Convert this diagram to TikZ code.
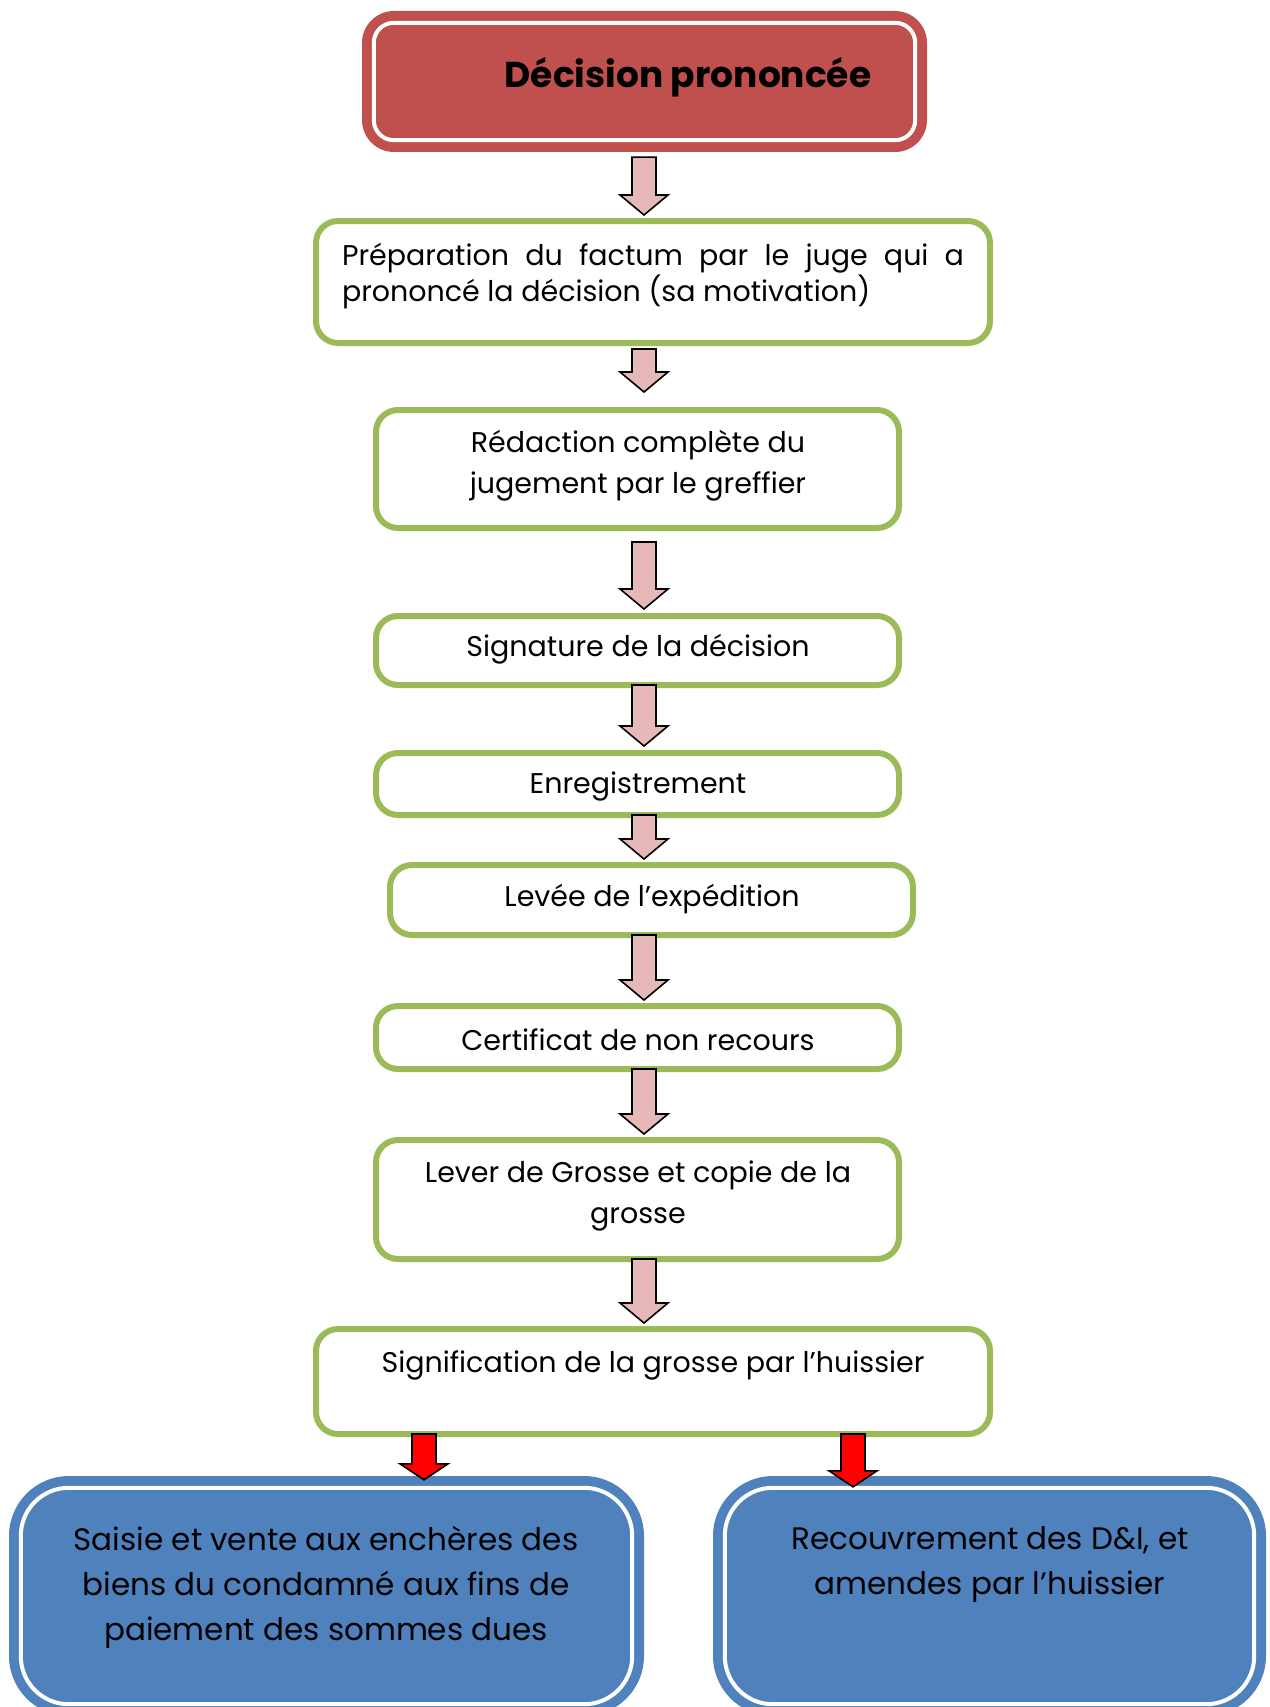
\documentclass[tikz,border=0pt]{standalone}
\usepackage{fontspec}
\setmainfont{Poppins}
\usetikzlibrary{calc}

\definecolor{headred}{HTML}{C0504D}
\definecolor{stepgreen}{HTML}{9BBB59}
\definecolor{endblue}{HTML}{4F81BD}
\definecolor{arrowpink}{HTML}{E6B9B8}
\definecolor{arrowred}{HTML}{FF0000}

% block arrow: #1 style, #2 start point, #3 tip point, #4 head length
\newcommand{\flowarrow}[4]{%
  \draw[#1] let \p1=#2, \p2=#3 in
    (\x1-12pt,\y1) -- (\x1+12pt,\y1) -- (\x1+12pt,\y2+#4) -- (\x1+24pt,\y2+#4)
    -- (\x1,\y2) -- (\x1-24pt,\y2+#4) -- (\x1-12pt,\y2+#4) -- cycle;}

\tikzset{
  stepbox/.style={draw=stepgreen, line width=6pt, fill=white, rounded corners=22pt,
    inner sep=0pt, minimum width=523pt},
  widebox/.style={stepbox, minimum width=674pt},
  steptext/.style={inner sep=0pt, font=\fontsize{28.5}{41}\selectfont, align=center},
  pinkarrow/.style={draw=black, line width=1.6pt, fill=arrowpink, line join=miter},
  redarrow/.style={draw=black, line width=1.6pt, fill=arrowred, line join=miter},
  innerline/.style={draw=white, line width=4pt},
}

\begin{document}
\begin{tikzpicture}[x=1pt, y=-1pt]
\useasboundingbox (0,0) rectangle (1269,1707);
\clip (0,0) rectangle (1269,1707);

\coordinate (col) at (644,0);
\coordinate (lcol) at (424,0);
\coordinate (rcol) at (853,0);

% title box
\node[fill=headred, rounded corners=32pt, inner sep=0pt, minimum width=565pt, minimum height=141pt]
  (r) at (644.5,81.5) {};
\draw[innerline, rounded corners=20pt] ($(r.north west)+(12,12)$) rectangle ($(r.south east)+(-12,-12)$);
\node[inner sep=0pt, font=\fontsize{36}{42}\selectfont\bfseries] (rt) at (688,77) {Décision prononcée};

% process steps
\node[widebox, minimum height=122pt] (g1) at (653,282) {};
\node[steptext, text width=622pt, align=justify, font=\fontsize{28.5}{36}\selectfont] (t1) at (653,276)
  {Préparation du factum par le juge qui a prononcé la décision (sa motivation)};

\node[stepbox, minimum height=118pt] (g2) at (637.5,469) {};
\node[steptext] (t2) at (638,465.5) {Rédaction complète du\\jugement par le greffier};

\node[stepbox, minimum height=69pt] (g3) at (637.5,650.5) {};
\node[steptext] (t3) at (638,649) {Signature de la décision};

\node[stepbox, minimum height=62pt] (g4) at (637.5,784) {};
\node[steptext] (t4) at (638,786) {Enregistrement};

\node[stepbox, minimum height=70pt] (g5) at (651.5,900) {};
\node[steptext] (t5) at (652,899) {Levée de l’expédition};

\node[stepbox, minimum height=63pt] (g6) at (637.5,1037.5) {};
\node[steptext] (t6) at (638,1040) {Certificat de non recours};

\node[stepbox, minimum height=119pt] (g7) at (637.5,1199.5) {};
\node[steptext] (t7) at (638,1196) {Lever de Grosse et copie de la\\grosse};

\node[widebox, minimum height=105pt] (g8) at (653,1381.5) {};
\node[steptext] (t8) at (653,1365) {Signification de la grosse par l’huissier};

% outcome boxes
\node[fill=endblue, rounded corners=60pt, inner sep=0pt, minimum width=635pt, minimum height=240pt]
  (b1) at (326.5,1596) {};
\draw[innerline, rounded corners=48pt] ($(b1.north west)+(12,12)$) rectangle ($(b1.south east)+(-12,-12)$);
\node[steptext, font=\fontsize{31}{45}\selectfont] (bt1) at (326,1587)
  {Saisie et vente aux enchères des\\biens du condamné aux fins de\\paiement des sommes dues};

\node[fill=endblue, rounded corners=60pt, inner sep=0pt, minimum width=553pt, minimum height=240pt]
  (b2) at (989.5,1596) {};
\draw[innerline, rounded corners=48pt] ($(b2.north west)+(12,12)$) rectangle ($(b2.south east)+(-12,-12)$);
\node[steptext, font=\fontsize{31}{45}\selectfont] (bt2) at (990,1564.5)
  {Recouvrement des D\&I, et\\amendes par l’huissier};

% connectors
\flowarrow{pinkarrow}{($(r.south -| col)+(0,5)$)}{($(g1.north -| col)+(0,-3)$)}{20pt}
\flowarrow{pinkarrow}{($(g1.south -| col)+(0,3)$)}{($(g2.north -| col)+(0,-15)$)}{20pt}
\flowarrow{pinkarrow}{($(g2.south -| col)+(0,11)$)}{($(g3.north -| col)+(0,-4)$)}{20pt}
\flowarrow{pinkarrow}{($(g3.south -| col)+(0,-3)$)}{($(g4.north -| col)+(0,-4)$)}{20pt}
\flowarrow{pinkarrow}{($(g4.south -| col)+(0,-3)$)}{($(g5.north -| col)+(0,-3)$)}{20pt}
\flowarrow{pinkarrow}{($(g5.south -| col)+(0,-3)$)}{($(g6.north -| col)+(0,-3)$)}{20pt}
\flowarrow{pinkarrow}{($(g6.south -| col)+(0,-3)$)}{($(g7.north -| col)+(0,-3)$)}{20pt}
\flowarrow{pinkarrow}{($(g7.south -| col)+(0,-3)$)}{($(g8.north -| col)+(0,-3)$)}{20pt}
\flowarrow{redarrow}{($(g8.south -| lcol)+(0,-3)$)}{($(b1.north -| lcol)+(0,4)$)}{16pt}
\flowarrow{redarrow}{($(g8.south -| rcol)+(0,-3)$)}{($(b2.north -| rcol)+(0,11)$)}{16pt}
\end{tikzpicture}
\end{document}
